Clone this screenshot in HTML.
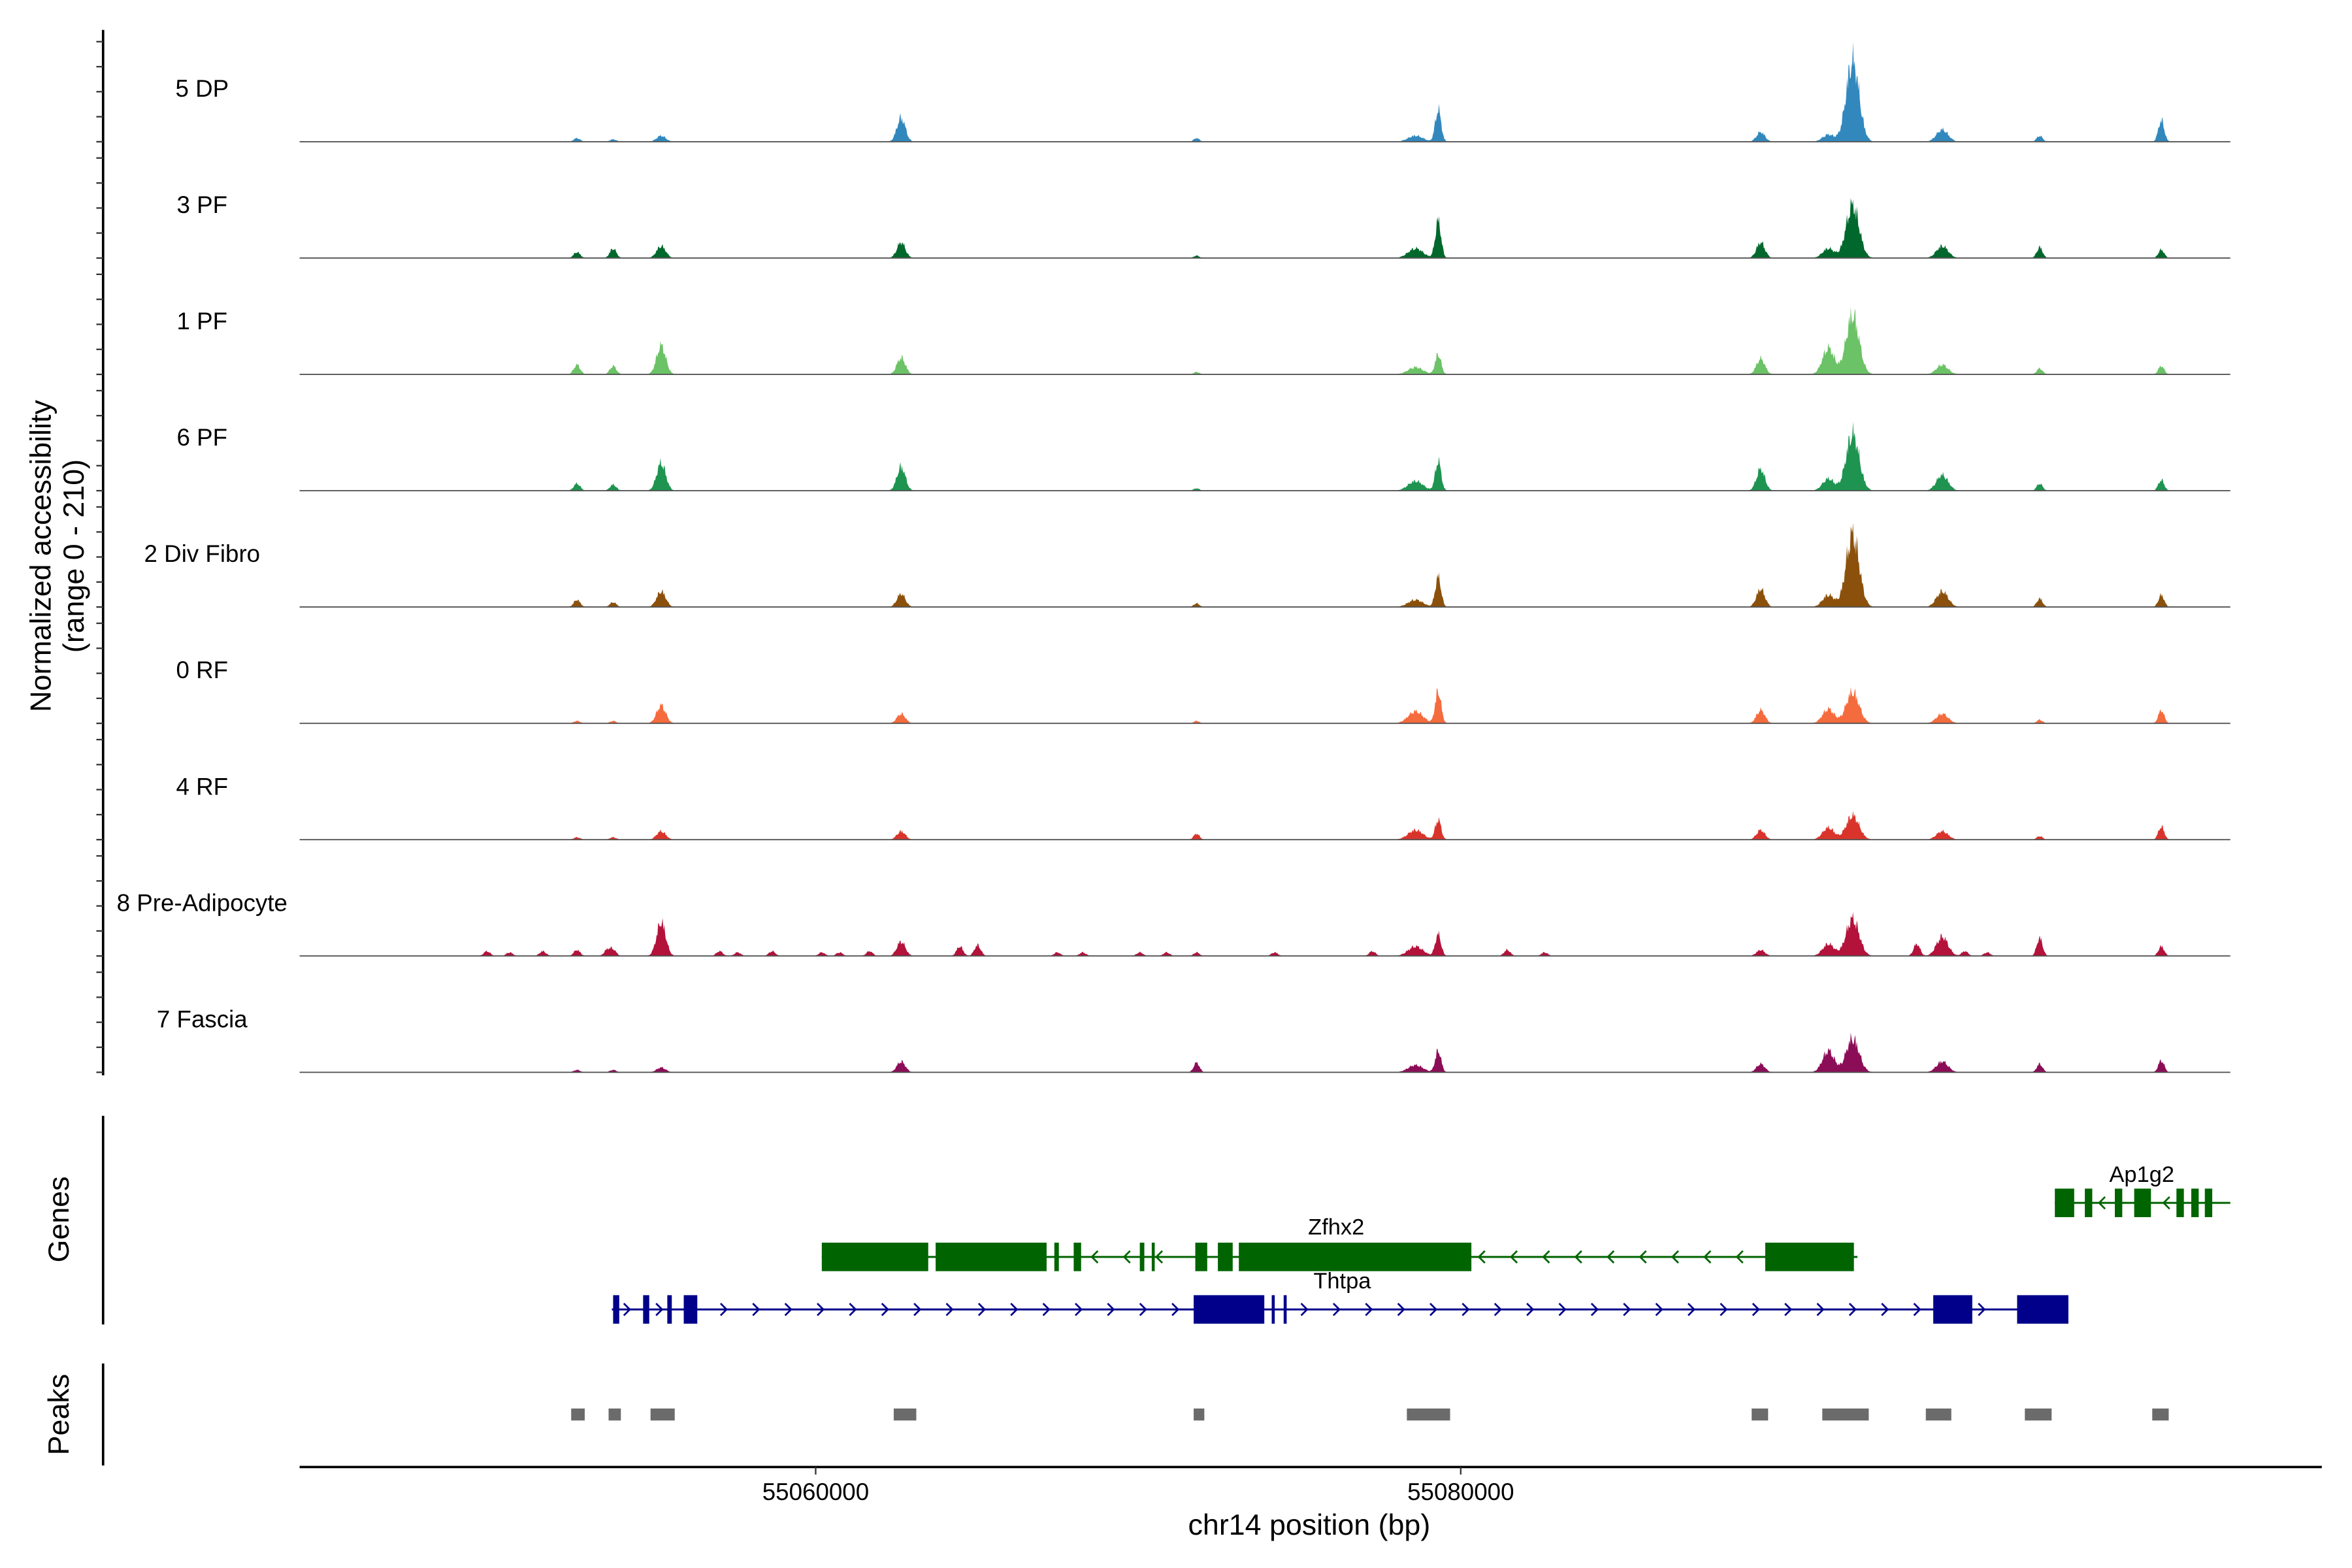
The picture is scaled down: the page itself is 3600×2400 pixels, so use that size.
<!DOCTYPE html>
<html><head><meta charset="utf-8"><style>
html,body{margin:0;padding:0;background:#fff}
svg{display:block}
text{font-family:"Liberation Sans",Arial,sans-serif;fill:#000}
</style></head><body>
<svg id="chart" xmlns="http://www.w3.org/2000/svg" width="3600" height="2400" viewBox="0 0 1560 1040">
<rect width="1560" height="1040" fill="#fff"/>
<g id="root" transform="translate(-0.28,0.43) scale(0.995,0.9955)">
<g id="tracks"></g>
<g id="yaxis"></g>
<text transform="translate(34,370) rotate(-90)" text-anchor="middle" font-size="19.5">Normalized accessibility</text>
<text transform="translate(56,370) rotate(-90)" text-anchor="middle" font-size="19.5">(range 0 - 210)</text>
<g id="genes"></g>
<g id="peaks"></g>
<g id="xaxis"></g>
</g>
</svg>
<script>
// ---- data ----
const trackNames = ["5 DP","3 PF","1 PF","6 PF","2 Div Fibro","0 RF","4 RF","8 Pre-Adipocyte","7 Fascia"];
const trackColors = ["#3288bd","#00682c","#6cc266","#1e9450","#8b510c","#f46b3d","#d9342b","#b3123a","#8c0d57"];
const peakPos = [55052600,55053720,55055210,55062650,55071810,55078600,55079300,55089300,55091400,55092150,55094930,55097950,55101720];
const peakWidth = [100,100,140,130,90,230,90,130,180,200,180,90,90];
const h5DP   = [9,6,15,60,9,15,81,24,18,201,30,15,54];
const h3PF   = [15,24,30,39,6,24,93,39,24,132,30,27,21];
const h1PF   = [24,21,72,42,6,18,51,39,66,147,24,15,21];
const h6PF   = [18,15,69,60,6,24,75,54,30,141,39,18,27];
const h2Div  = [18,12,39,33,9,18,75,45,30,183,39,21,30];
const h0RF   = [6,6,45,24,6,30,81,33,36,78,24,9,33];
const h4RF   = [6,6,21,21,15,24,51,24,30,60,21,9,33];
const h8PA   = [15,15,84,36,9,24,54,15,30,93,48,45,24];
const h7Fas  = [6,6,12,27,24,18,54,21,54,84,27,21,30];
const trackHeights = [h5DP,h3PF,h1PF,h6PF,h2Div,h0RF,h4RF,h8PA,h7Fas];
const extraPos = [55049810,55050510,55051540,55053540,55057020,55057580,55058650,55060190,55060740,55061670,55064470,55065020,55067490,55068280,55070050,55070880,55074230,55077260,55081440,55082600,55094140,55095630,55096320];
const extraH8PA = [12,9,12,15,12,9,12,9,9,12,24,27,9,9,9,9,9,12,15,9,30,12,9];
const xTicks = [55060000,55080000];
const xTickLabels = ["55060000","55080000"];
const yTickVals = [0,50,100,150,200];
const zfhx2Line = [55060190,55092300];
const zfhx2Exons = [[55060190,55063490],[55063720,55067160],[55067400,55067540],[55068000,55068230],[55070050,55070190],[55070420,55070510],[55071770,55072140],[55072470,55072930],[55073120,55080330],[55089440,55092190]];
const thtpaLine = [55053680,55098840];
const thtpaExons = [[55053720,55053910],[55054650,55054840],[55055400,55055540],[55055910,55056330],[55071720,55073910],[55074140,55074230],[55074510,55074600],[55094650,55095860],[55097250,55098840]];
const ap1g2Line = [55098420,55103860];
const ap1g2Exons = [[55098420,55099020],[55099350,55099580],[55100280,55100510],[55100880,55101400],[55102190,55102420],[55102650,55102880],[55103070,55103300]];
const peakRegions = [[55052420,55052840],[55053580,55053960],[55054880,55055630],[55062420,55063120],[55071720,55072050],[55078330,55079670],[55089020,55089530],[55091210,55092650],[55094420,55095210],[55097490,55098320],[55101440,55101950]];

// ---- scales ----
const NS="http://www.w3.org/2000/svg";
const X0=200,X1=1487,B0=55044000,B1=55103860;
const xs = b => X0 + (b-B0)/(B1-B0)*(X1-X0);
const base0=94, pitch=77.5, yMax=210, trackH=70;
const ys = (i,v) => base0 + i*pitch - v/yMax*trackH;
function el(tag, attrs, parent){const e=document.createElementNS(NS,tag);for(const k in attrs)e.setAttribute(k,attrs[k]);parent.appendChild(e);return e;}

// ---- tracks ----
const gT=document.getElementById('tracks');
trackNames.forEach((name,i)=>{
  const hs=trackHeights[i];
  let pts=[];
  for(let px=X0;px<=X1;px+=0.5){
    const b=B0+(px-X0)/(X1-X0)*(B1-B0);
    let v=0;
    peakPos.forEach((p,k)=>{const d=(b-p)/peakWidth[k];v+=hs[k]*Math.exp(-0.5*d*d);});
    if(i===7) extraPos.forEach((p,k)=>{const d=(b-p)/100;v+=extraH8PA[k]*Math.exp(-0.5*d*d);});
    const j=0.65+0.35*Math.abs(Math.sin(px*2.3)*Math.cos(px*0.9+i));
    v=v*j;
    pts.push([px, ys(i,Math.min(v,yMax))]);
  }
  let d=`M${X0},${ys(i,0)} `+pts.map(p=>`L${p[0].toFixed(1)},${p[1].toFixed(2)}`).join(' ')+` L${X1},${ys(i,0)} Z`;
  const a=el('path',{d:d,fill:trackColors[i]},gT);
  
  
  const bl=el('line',{x1:X0,x2:X1,y1:ys(i,0),y2:ys(i,0),stroke:'#555','stroke-width':0.8},gT);
  
  
  const t=el('text',{x:135,y:ys(i,0)-30,'text-anchor':'middle','font-size':16},gT);
  t.textContent=name;
  
  
});

// ---- y axis ----
const gY=document.getElementById('yaxis');
const ax=el('line',{x1:69,x2:69,y1:19.5,y2:716,stroke:'#000','stroke-width':1.6},gY);


for(let i=0;i<trackNames.length;i++){
  yTickVals.forEach(v=>{
    const tk=el('line',{x1:64.5,x2:69,y1:ys(i,v),y2:ys(i,v),stroke:'#333','stroke-width':1},gY);
    
    
  });
}

// ---- genes ----
const gG=document.getElementById('genes');
const gl=el('line',{x1:69,x2:69,y1:743,y2:882,stroke:'#000','stroke-width':1.6},gG);


const gt=el('text',{transform:'translate(46,812) rotate(-90)','text-anchor':'middle','font-size':19.5},gG);
gt.textContent='Genes';


function drawGene(name,line,exons,y,color,dir,lx,ly){
  const g=el('g',{},gG);
  
  
  el('line',{x1:xs(line[0]),x2:xs(line[1]),y1:y,y2:y,stroke:color,'stroke-width':1.3},g);
  for(let x=xs(line[0])+10;x<xs(line[1])-4;x+=21.5){
    const inEx=exons.some(e=>x>xs(e[0])-3&&x<xs(e[1])+3);
    if(inEx) continue;
    const d=dir>0?`M${x-2},${y-4} L${x+2},${y} L${x-2},${y+4}`:`M${x+2},${y-4} L${x-2},${y} L${x+2},${y+4}`;
    el('path',{d:d,stroke:color,fill:'none','stroke-width':1.2},g);
  }
  exons.forEach(e=>{
    const r=el('rect',{x:xs(e[0]),y:y-9.5,width:Math.max(2,xs(e[1])-xs(e[0])),height:19,fill:color},g);
    
    
  });
  const t=el('text',{x:lx,y:ly,'text-anchor':'middle','font-size':15},g);
  t.textContent=name;
}
drawGene('Zfhx2',zfhx2Line,zfhx2Exons,837,'#006400',-1,891,822);
drawGene('Thtpa',thtpaLine,thtpaExons,872,'#00008b',1,895,858);
drawGene('Ap1g2',ap1g2Line,ap1g2Exons,801,'#006400',-1,1428,787);

// ---- peaks ----
const gP=document.getElementById('peaks');
const pl=el('line',{x1:69,x2:69,y1:908,y2:976,stroke:'#000','stroke-width':1.6},gP);


const pt=el('text',{transform:'translate(46,942) rotate(-90)','text-anchor':'middle','font-size':19.5},gP);
pt.textContent='Peaks';


peakRegions.forEach(r=>{
  const rc=el('rect',{x:xs(r[0]),y:938,width:xs(r[1])-xs(r[0]),height:8,fill:'#6b6b6b'},gP);
  
  
});

// ---- x axis ----
const gX=document.getElementById('xaxis');
const xl=el('line',{x1:200,x2:1548,y1:977,y2:977,stroke:'#000','stroke-width':1.6},gX);


xTicks.forEach((b,k)=>{
  const tk=el('line',{x1:xs(b),x2:xs(b),y1:977,y2:982,stroke:'#333','stroke-width':1},gX);
  
  
  const t=el('text',{x:xs(b),y:999,'text-anchor':'middle','font-size':16,fill:'#4d4d4d'},gX);
  t.textContent=xTickLabels[k];
  
  
});
const xt=el('text',{x:873,y:1022,'text-anchor':'middle','font-size':19.5},gX);
xt.textContent='chr14 position (bp)';


</script>
</body></html>
